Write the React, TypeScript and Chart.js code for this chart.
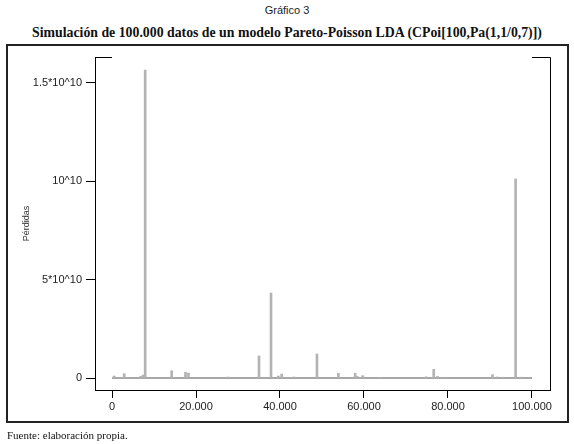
import React, { useEffect, useRef } from "react";
import { Chart, registerables } from "chart.js";

Chart.register(...registerables);

// ---- Data ----
const spikeX = [
  500, 2900, 6800, 7400, 7900, 14200, 17500, 18200, 27600, 35000, 37860, 39600,
  40400, 43300, 48800, 53900, 57900, 58400, 59700, 64000, 74800, 76600, 77500,
  78800, 90600, 91700, 93000, 96100, 97300,
];
const spikeY = [
  0.1e9, 0.22e9, 0.08e9, 0.15e9, 15.66e9, 0.37e9, 0.29e9, 0.25e9, 0.05e9, 1.12e9,
  4.32e9, 0.1e9, 0.2e9, 0.05e9, 1.22e9, 0.24e9, 0.24e9, 0.08e9, 0.12e9, 0.03e9,
  0.06e9, 0.44e9, 0.08e9, 0.04e9, 0.17e9, 0.05e9, 0.04e9, 10.12e9, 0.04e9,
];
const baselineX = [0, 100000];
const baselineY = [0, 0];

const xTickValues = [0, 20000, 40000, 60000, 80000, 100000];
const xTickLabels = ["0", "20.000", "40.000", "60.000", "80.000", "100.000"];
const yTickValues = [0, 5e9, 1e10, 1.5e10];
const yTickLabels = ["0", "5*10^10", "10^10", "1.5*10^10"];

const xMin = -4050;
const xMax = 104290;
const yMin = -0.61e9;
const yMax = 16.32e9;

const figureLabel = "Gráfico 3";
const titleText =
  "Simulación de 100.000 datos de un modelo Pareto-Poisson LDA (CPoi[100,Pa(1,1/0,7)])";
const yAxisTitle = "Pérdidas";
const sourceText = "Fuente: elaboración propia.";

const framePlugin = {
  id: "frameStubs",
  afterDraw(chart: any) {
    const { ctx, chartArea, scales } = chart;
    const { left, right, top, bottom } = chartArea;
    const xs = scales.x;
    const x0 = xs.getPixelForValue(xTickValues[0]);
    const x1 = xs.getPixelForValue(xTickValues[xTickValues.length - 1]);
    ctx.save();
    ctx.strokeStyle = "#000";
    ctx.lineWidth = 1;
    const ty = Math.round(top) + 0.5;
    const rx = Math.round(right) + 0.5;
    ctx.beginPath();
    ctx.moveTo(left, ty);
    ctx.lineTo(x0, ty);
    ctx.moveTo(x1, ty);
    ctx.lineTo(rx, ty);
    ctx.lineTo(rx, bottom + 0.5);
    ctx.stroke();
    ctx.restore();
  },
};

export default function App() {
  const canvasRef = useRef<HTMLCanvasElement | null>(null);

  useEffect(() => {
    if (!canvasRef.current) return;
    Chart.defaults.font.family = "'Liberation Sans', Arial, sans-serif";
    const chart = new Chart(canvasRef.current, {
      type: "bar",
      data: {
        datasets: [
          {
            type: "bar",
            data: spikeX.map((x, i) => ({ x, y: spikeY[i] })),
            backgroundColor: "#b3b3b3",
            barThickness: 2,
            borderWidth: 0,
            order: 1,
          } as any,
          {
            type: "line",
            data: baselineX.map((x, i) => ({ x, y: baselineY[i] })),
            borderColor: "#a8a8a8",
            borderWidth: 2,
            pointRadius: 0,
            order: 2,
          } as any,
        ],
      },
      options: {
        animation: false,
        responsive: false,
        events: [],
        layout: { padding: { top: 57, right: 24, left: 0, bottom: 0 } },
        plugins: {
          legend: { display: false },
          tooltip: { enabled: false },
          title: { display: false },
        },
        scales: {
          x: {
            type: "linear",
            min: xMin,
            max: xMax,
            offset: false,
            afterBuildTicks: (scale: any) => {
              scale.ticks = xTickValues.map((v) => ({ value: v }));
            },
            afterFit: (scale: any) => {
              scale.height = 54;
            },
            ticks: {
              autoSkip: false,
              maxRotation: 0,
              padding: 2,
              color: "#222",
              font: { size: 11 },
              callback: (v: any) => xTickLabels[xTickValues.indexOf(Number(v))],
            },
            grid: {
              display: true,
              drawOnChartArea: false,
              drawTicks: true,
              tickLength: 8,
              offset: false,
              color: "#000",
            },
            border: { display: true, color: "#000", width: 1 },
          },
          y: {
            type: "linear",
            min: yMin,
            max: yMax,
            afterBuildTicks: (scale: any) => {
              scale.ticks = yTickValues.map((v) => ({ value: v }));
            },
            afterFit: (scale: any) => {
              scale.width = 95;
            },
            ticks: {
              autoSkip: false,
              padding: 4,
              color: "#222",
              font: { size: 11 },
              callback: (v: any) => yTickLabels[yTickValues.indexOf(Number(v))],
            },
            grid: {
              display: true,
              drawOnChartArea: false,
              drawTicks: true,
              tickLength: 9,
              color: "#000",
            },
            border: { display: true, color: "#000", width: 1 },
            title: {
              display: true,
              text: yAxisTitle,
              color: "#333",
              font: { size: 9 },
              padding: { top: 21, bottom: 0 },
            },
          },
        },
      },
      plugins: [framePlugin],
    } as any);
    return () => chart.destroy();
  }, []);

  return (
    <div style={{ position: "absolute", left: 0, top: 0, width: 574, height: 444, background: "#fff" }}>
      <div
        style={{
          position: "absolute",
          left: 0,
          top: 3,
          width: 574,
          textAlign: "center",
          fontFamily: "'Liberation Sans', Arial, sans-serif",
          fontSize: 11,
          lineHeight: "14px",
          color: "#222",
        }}
      >
        {figureLabel}
      </div>
      <div
        style={{
          position: "absolute",
          left: 0,
          top: 24,
          width: 574,
          textAlign: "center",
          fontFamily: "'Liberation Serif', 'Times New Roman', serif",
          fontWeight: "bold",
          fontSize: 13.8,
          lineHeight: "17px",
          color: "#111",
          whiteSpace: "nowrap",
        }}
      >
        {titleText}
      </div>
      <div
        style={{
          position: "absolute",
          left: 6,
          top: 44,
          width: 563,
          height: 379,
          boxSizing: "border-box",
          border: "2px solid #222",
        }}
      />
      <canvas
        ref={canvasRef}
        width={574}
        height={444}
        style={{ position: "absolute", left: 0, top: 0, width: 574, height: 444 }}
      />
      <div
        style={{
          position: "absolute",
          left: 7,
          top: 428,
          fontFamily: "'Liberation Serif', 'Times New Roman', serif",
          fontSize: 11,
          lineHeight: "14px",
          color: "#111",
          whiteSpace: "nowrap",
        }}
      >
        {sourceText}
      </div>
    </div>
  );
}
